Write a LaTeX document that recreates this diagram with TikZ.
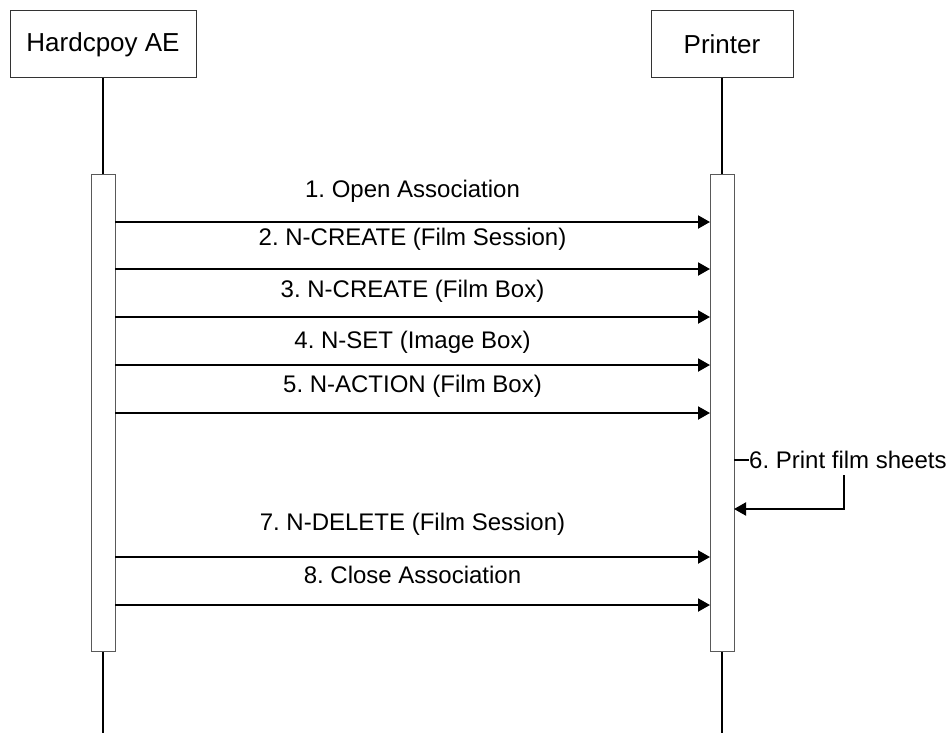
\documentclass[tikz,border=0pt]{standalone}
\usepackage{fontspec}
\setmainfont{Liberation Sans}
\usetikzlibrary{arrows.meta}
\frenchspacing

\begin{document}
\begin{tikzpicture}[x=1pt,y=-1pt,
  head/.style={draw=black!80,line width=1pt,minimum height=67pt,
    font=\fontsize{26}{30}\selectfont},
  actbox/.style={draw=black!65,line width=1pt,fill=white,
    minimum width=24pt,minimum height=477pt},
  life/.style={line width=2pt},
  msg/.style={line width=2pt,-{Triangle[length=12pt,width=13pt]}},
  lbl/.style={anchor=base,font=\fontsize{24}{28}\selectfont,inner sep=0pt}]
\useasboundingbox (0,0) rectangle (949,733);
% lifelines
\node[head,minimum width=186pt] (hae) at (103,44.5) {Hardcpoy AE};
\node[head,minimum width=142pt] (prn) at (722,44.5) {Printer};
\coordinate (haeend) at (103,733);
\coordinate (prnend) at (722,733);
\draw[life] (hae.south) -- (haeend);
\draw[life] (prn.south) -- (prnend);
\node[actbox] (haeact) at (103,412.5) {};
\node[actbox] (prnact) at (722,412.5) {};
% messages
\foreach \n/\y in {1/222,2/269,3/317,4/365,5/413,7/557,8/605}{
  \coordinate (from\n) at (115,\y);
  \coordinate (to\n) at (710,\y);
  \draw[msg] (from\n) -- (to\n);
}
\node[lbl] (l1) at (412.5,197) {1. Open Association};
\node[lbl] (l2) at (412.5,245) {2. N-CREATE (Film Session)};
\node[lbl] (l3) at (412.5,297) {3. N-CREATE (Film Box)};
\node[lbl] (l4) at (412.5,348) {4. N-SET (Image Box)};
\node[lbl] (l5) at (412.5,392) {5. N-ACTION (Film Box)};
\node[lbl] (l7) at (412.5,530) {7. N-DELETE (Film Session)};
\node[lbl] (l8) at (412.5,583) {8. Close Association};
% self message
\coordinate (tick) at (734,460);
\node[anchor=west,font=\fontsize{24}{28}\selectfont,inner sep=0pt] (l6) at (749,460) {6. Print film sheets};
\draw[line width=1.5pt] (tick) -- (l6.west);
\coordinate (selftop) at (844,475);
\coordinate (selfcorner) at (844,509);
\coordinate (selfend) at (734,509);
\draw[msg] (selftop) -- (selfcorner) -- (selfend);
\end{tikzpicture}
\end{document}
